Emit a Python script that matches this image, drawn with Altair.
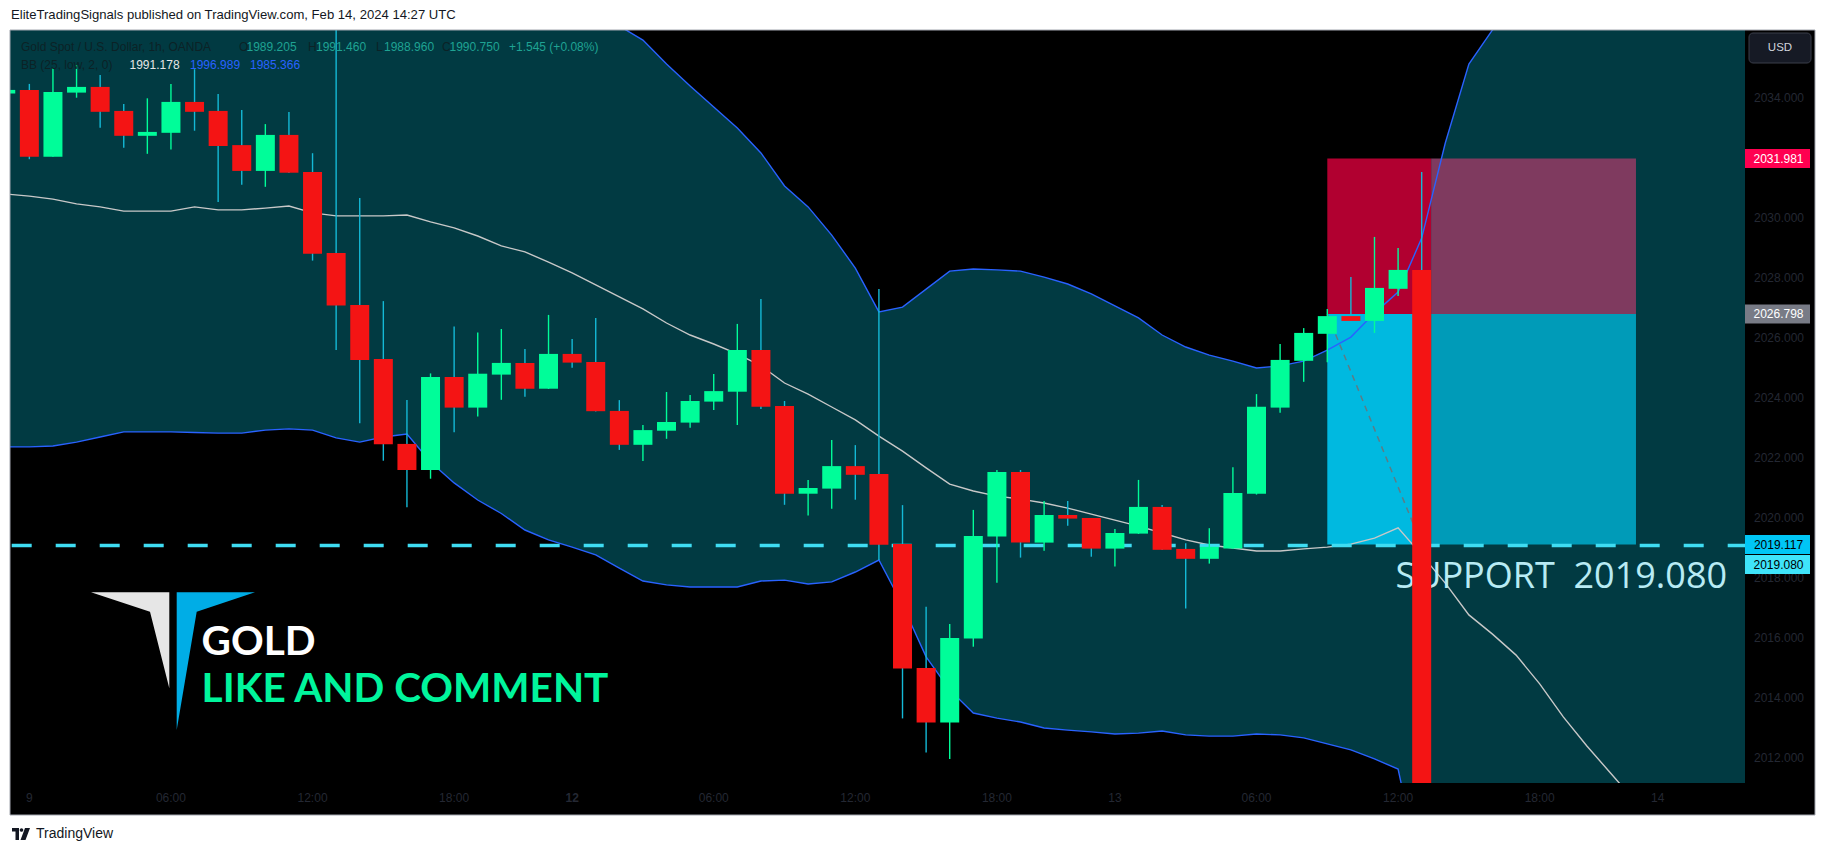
import altair as alt
import pandas as pd
import numpy as np

# ------------------------------------------------------------------ data
title_text = "EliteTradingSignals published on TradingView.com, Feb 14, 2024 14:27 UTC"

bar_index = list(range(-24, 37))
bar_open = [2034.15, 2034.27, 2032.04, 2034.18, 2034.37, 2033.57, 2032.74, 2032.84, 2033.87, 2033.57,
            2032.43, 2031.57, 2032.77, 2031.53, 2028.83, 2027.10, 2025.30, 2022.47, 2021.60, 2024.70,
            2023.68, 2024.78, 2025.17, 2024.31, 2025.47, 2025.20, 2023.57, 2022.44, 2022.91, 2023.18,
            2023.88, 2024.21, 2025.60, 2023.73, 2020.81, 2020.98, 2021.73, 2021.47, 2019.13, 2015.00,
            2013.18, 2015.98, 2019.38, 2021.53, 2019.18, 2020.10, 2020.00, 2018.98, 2019.48, 2020.37,
            2018.97, 2018.64, 2018.98, 2020.81, 2023.68, 2025.24, 2026.14, 2026.73, 2026.57, 2027.64,
            2028.27]
bar_high = [2034.35, 2034.47, 2034.99, 2035.10, 2034.77, 2033.80, 2033.99, 2034.47, 2034.96, 2034.13,
            2033.60, 2033.13, 2033.53, 2032.16, 2036.60, 2030.67, 2027.23, 2023.93, 2024.82, 2026.38,
            2026.18, 2026.30, 2025.63, 2026.77, 2025.97, 2026.67, 2023.93, 2023.10, 2024.20, 2024.10,
            2024.80, 2026.47, 2027.30, 2023.90, 2021.27, 2022.60, 2022.43, 2027.63, 2020.43, 2017.04,
            2016.47, 2020.27, 2021.60, 2021.60, 2020.57, 2020.57, 2020.00, 2019.63, 2021.27, 2020.43,
            2019.16, 2019.66, 2021.69, 2024.13, 2025.80, 2026.33, 2026.97, 2028.03, 2029.37, 2029.00,
            2031.53]
bar_low = [2034.05, 2031.96, 2032.04, 2034.01, 2033.01, 2032.34, 2032.14, 2032.28, 2032.91, 2030.53,
           2031.11, 2031.04, 2031.50, 2028.58, 2025.60, 2023.16, 2021.91, 2020.36, 2021.31, 2022.86,
           2023.38, 2023.94, 2024.04, 2024.30, 2025.01, 2023.55, 2022.27, 2021.90, 2022.64, 2023.01,
           2023.60, 2023.10, 2023.63, 2020.44, 2020.08, 2020.31, 2020.61, 2018.60, 2013.32, 2012.18,
           2011.97, 2015.71, 2017.84, 2018.68, 2018.91, 2019.74, 2018.71, 2018.38, 2019.47, 2018.93,
           2016.98, 2018.48, 2018.97, 2020.78, 2023.51, 2024.54, 2025.19, 2026.55, 2026.17, 2027.40,
           2005.00]
bar_close = [2034.27, 2032.04, 2034.20, 2034.37, 2033.54, 2032.74, 2032.87, 2033.87, 2033.54, 2032.40,
             2031.57, 2032.77, 2031.51, 2028.81, 2027.08, 2025.27, 2022.46, 2021.60, 2024.70, 2023.68,
             2024.81, 2025.17, 2024.31, 2025.47, 2025.18, 2023.56, 2022.44, 2022.93, 2023.20, 2023.90,
             2024.23, 2025.60, 2023.71, 2020.81, 2021.00, 2021.73, 2021.44, 2019.11, 2014.98, 2013.18,
             2016.00, 2019.40, 2021.53, 2019.18, 2020.10, 2019.98, 2018.98, 2019.50, 2020.37, 2018.94,
             2018.64, 2019.04, 2020.83, 2023.71, 2025.27, 2026.17, 2026.73, 2026.57, 2027.67, 2028.27,
             2008.00]

bb_index = list(range(-24, 51))
bb_upper = [2039.2, 2039.1, 2038.9, 2038.5, 2038.3, 2037.9, 2037.9, 2037.9, 2038.1, 2038.0,
            2038.0, 2037.9, 2037.8, 2037.6, 2037.5, 2037.6, 2037.4, 2037.4, 2037.6, 2037.9,
            2038.2, 2038.0, 2037.9, 2037.6, 2037.3, 2036.8, 2036.4, 2035.93, 2035.13, 2034.4,
            2033.7, 2033.0, 2032.17, 2031.07, 2030.37, 2029.43, 2028.33, 2026.87, 2027.03, 2027.63,
            2028.23, 2028.3, 2028.27, 2028.23, 2028.03, 2027.8, 2027.47, 2027.07, 2026.67, 2026.1,
            2025.7, 2025.43, 2025.23, 2025.0, 2025.07, 2025.23, 2025.6, 2026.03, 2026.83, 2027.53,
            2029.33, 2032.5, 2035.13, 2036.27, 2037.0, 2037.6, 2038.1, 2038.5, 2038.8, 2039.0,
            2039.1, 2039.2, 2039.2, 2039.2, 2039.1]
bb_basis = [2030.8, 2030.73, 2030.63, 2030.47, 2030.37, 2030.23, 2030.23, 2030.23, 2030.37, 2030.27,
            2030.27, 2030.33, 2030.4, 2030.17, 2030.07, 2030.07, 2030.07, 2030.1, 2029.87, 2029.67,
            2029.4, 2029.07, 2028.87, 2028.53, 2028.17, 2027.77, 2027.37, 2026.97, 2026.5, 2026.1,
            2025.8, 2025.47, 2025.07, 2024.5, 2024.13, 2023.7, 2023.27, 2022.73, 2022.23, 2021.67,
            2021.13, 2020.9, 2020.73, 2020.63, 2020.5, 2020.33, 2020.13, 2019.93, 2019.73, 2019.5,
            2019.27, 2019.1, 2019.0, 2018.9, 2018.9, 2018.97, 2019.03, 2019.13, 2019.33, 2019.67,
            2018.77, 2017.83, 2016.77, 2016.13, 2015.43, 2014.47, 2013.37, 2012.4, 2011.5, 2010.6,
            2009.6, 2008.6, 2007.6, 2006.6, 2005.6]
bb_lower = [2022.37, 2022.37, 2022.4, 2022.53, 2022.7, 2022.87, 2022.87, 2022.87, 2022.85, 2022.83,
            2022.83, 2022.93, 2022.97, 2022.93, 2022.67, 2022.53, 2022.7, 2022.8, 2021.87, 2021.17,
            2020.6, 2020.15, 2019.6, 2019.27, 2019.03, 2018.77, 2018.33, 2017.9, 2017.77, 2017.7,
            2017.7, 2017.7, 2017.9, 2017.93, 2017.8, 2017.87, 2018.2, 2018.6, 2017.1, 2015.37,
            2014.27, 2013.5, 2013.33, 2013.2, 2013.0, 2012.93, 2012.87, 2012.8, 2012.83, 2012.9,
            2012.77, 2012.73, 2012.73, 2012.8, 2012.77, 2012.67, 2012.47, 2012.27, 2011.97, 2011.63,
            2008.0, 2003.0, 2000.0, 1998.0, 1996.0, 1994.0, 1993.0, 1992.0, 1991.0, 1990.0,
            1990.0, 1990.0, 1990.0, 1990.0, 1990.0]

price_ticks = [2012, 2014, 2016, 2018, 2020, 2022, 2024, 2026, 2028, 2030, 2032, 2034]
time_tick_index = [-23, -17, -11, -5, 0, 6, 12, 18, 23, 29, 35, 41, 46]
time_tick_labels = ["9", "06:00", "12:00", "18:00", "12", "06:00", "12:00", "18:00", "13",
                    "06:00", "12:00", "18:00", "14"]
time_tick_bold = [False, False, False, False, True, False, False, False, False,
                  False, False, False, False]

support_price = 2019.080
position_entry = 2026.798
position_stop = 2031.981
position_target = 2019.117
position_start_bar = 32
position_now_bar = 36.4
position_end_bar = 45.08
position_line_bars = [32, 36]
position_line_prices = [2026.798, 2019.117]

price_flags = ["2031.981", "2026.798", "2019.117", "2019.080"]
price_flag_values = [2031.981, 2026.798, 2019.117, 2019.080]

legend_symbol = "Gold Spot / U.S. Dollar, 1h, OANDA"
legend_ohlc = [("O", "1989.205"), ("H", "1991.460"), ("L", "1988.960"), ("C", "1990.750")]
legend_change = "+1.545 (+0.08%)"
legend_bb_name = "BB (25, low, 2, 0)"
legend_bb_values = ["1991.178", "1996.989", "1985.366"]

# ------------------------------------------------------------------ styles
W, H = 1735, 753
XS = alt.Scale(domain=[-23.82, 49.70], nice=False, zero=False, padding=0)
YS = alt.Scale(domain=[2011.167, 2036.267], nice=False, zero=False, padding=0)
GREEN = "#00fd99"
RED = "#f41414"
CYAN_WICK = "#14b9d6"
FILL = "#013a42"
BAND = "#2962ff"
BASIS = "#c8c8c8"
DIM = "#242833"
FONT = "Liberation Sans"

candles = pd.DataFrame({"k": bar_index, "open": bar_open, "high": bar_high,
                        "low": bar_low, "close": bar_close})
up = candles["close"] >= candles["open"]
candles["body_color"] = np.where(up, GREEN, RED)
candles["wick_color"] = np.where(up, GREEN, CYAN_WICK)

bb = pd.DataFrame({"k": bb_index, "upper": bb_upper, "basis": bb_basis, "lower": bb_lower})
ONE = pd.DataFrame({"a": [0]})

layers = []

def pix_rect(x1, x2, y1, y2, **kw):
    return alt.Chart(ONE).mark_rect(**kw).encode(
        x=alt.value(x1), x2=alt.value(x2), y=alt.value(y1), y2=alt.value(y2))

def pix_text(txt, x, y, color, size=12, weight="normal", align="left", font=FONT):
    return alt.Chart(ONE).mark_text(text=txt, align=align, baseline="middle", font=font,
                                    fontSize=size, fontWeight=weight, color=color).encode(
        x=alt.value(x), y=alt.value(y))

# axis backgrounds
layers.append(pix_rect(W, W + 70, 0, H + 32, color="black"))
layers.append(pix_rect(0, W, H, H + 32, color="black"))

# Bollinger fill
layers.append(alt.Chart(bb).mark_area(clip=True, color=FILL, opacity=1).encode(
    x=alt.X("k:Q", scale=XS), y=alt.Y("upper:Q", scale=YS), y2="lower:Q"))

# position tool boxes
def pos_box(x1, x2, y1, y2, color):
    return alt.Chart(ONE).mark_rect(clip=True, color=color, opacity=1).encode(
        x=alt.X(datum=x1, scale=XS), x2=alt.X2(datum=x2),
        y=alt.Y(datum=y1, scale=YS), y2=alt.Y2(datum=y2))

layers.append(pos_box(position_start_bar, position_now_bar, position_entry, position_stop, "#b10030"))
layers.append(pos_box(position_now_bar, position_end_bar, position_entry, position_stop, "#7f3a5f"))
layers.append(pos_box(position_start_bar, position_now_bar, position_target, position_entry, "#00b9e0"))
layers.append(pos_box(position_now_bar, position_end_bar, position_target, position_entry, "#009bb8"))

# Bollinger lines
for col, colr in [("basis", BASIS), ("upper", BAND), ("lower", BAND)]:
    layers.append(alt.Chart(bb).mark_line(clip=True, color=colr, strokeWidth=1.4).encode(
        x=alt.X("k:Q", scale=XS), y=alt.Y(f"{col}:Q", scale=YS)))

# support line
layers.append(alt.Chart(ONE).mark_rule(color="#3fdcf2", strokeWidth=3.5, strokeDash=[20, 24]).encode(
    x=alt.value(1.7), x2=alt.value(W), y=alt.Y(datum=support_price, scale=YS)))

# position dashed line
pl = pd.DataFrame({"k": position_line_bars, "p": position_line_prices})
layers.append(alt.Chart(pl).mark_line(clip=True, color="#5d7c86", strokeWidth=1.5,
                                      strokeDash=[6, 5]).encode(
    x=alt.X("k:Q", scale=XS), y=alt.Y("p:Q", scale=YS)))

# annotations
def data_text(txt, k, p, color, size, weight="normal", align="left", font="Open Sans"):
    return alt.Chart(ONE).mark_text(text=txt, align=align, baseline="alphabetic", font=font,
                                    fontSize=size, fontWeight=weight, color=color).encode(
        x=alt.X(datum=k, scale=XS), y=alt.Y(datum=p, scale=YS))

layers.append(data_text("SUPPORT\u00a0\u00a02019.080", 48.94, 2017.67, "#b8ebf4", 36, align="right"))
layers.append(data_text("GOLD", -15.7, 2015.43, "#ffffff", 40.5, weight="bold", font="Lato"))
layers.append(data_text("LIKE AND COMMENT", -15.7, 2013.87, "#00f59c", 40.5, weight="bold", font="Lato"))

logo_white = "M-0.82,-0.687L-0.037,-0.687L-0.037,0.273L-0.23,-0.493Z"
logo_blue = "M0.037,-0.687L0.82,-0.687L0.237,-0.493L0.037,0.69Z"
for shp, colr in [(logo_white, "#e6e6e6"), (logo_blue, "#00ade6")]:
    layers.append(alt.Chart(ONE).mark_point(shape=shp, size=40000, filled=True, opacity=1,
                                            strokeWidth=0, color=colr).encode(
        x=alt.value(163), y=alt.value(631)))

# candles
layers.append(alt.Chart(candles).mark_rule(clip=True, strokeWidth=1.4).encode(
    x=alt.X("k:Q", scale=XS), y=alt.Y("low:Q", scale=YS), y2="high:Q",
    color=alt.Color("wick_color:N", scale=None)))
layers.append(alt.Chart(candles).mark_bar(clip=True, size=19).encode(
    x=alt.X("k:Q", scale=XS), y=alt.Y("open:Q", scale=YS), y2="close:Q",
    color=alt.Color("body_color:N", scale=None)))

# legend
LEG_DARK = "#0c2226"
LEG_NUM = "#1fa393"
layers.append(pix_text(legend_symbol, 11, 16.6, LEG_DARK))
ohlc_x = [(229, 236.5), (298, 306), (366, 374), (432, 439.5)]
for (letter, val), (lx, vx) in zip(legend_ohlc, ohlc_x):
    layers.append(pix_text(letter, lx, 16.6, LEG_DARK))
    layers.append(pix_text(val, vx, 16.6, LEG_NUM))
layers.append(pix_text(legend_change, 499, 16.6, LEG_NUM))
layers.append(pix_text(legend_bb_name, 11, 35, LEG_DARK))
for val, vx, colr in zip(legend_bb_values, [119.5, 180, 240], ["#e6e6e6", BAND, BAND]):
    layers.append(pix_text(val, vx, 35, colr))

# price axis labels
pt = pd.DataFrame({"p": price_ticks})
layers.append(alt.Chart(pt).mark_text(align="center", baseline="middle", font=FONT, fontSize=12,
                                      color=DIM).encode(
    x=alt.value(1769), y=alt.Y("p:Q", scale=YS), text=alt.Text("p:Q", format=".3f")))

# price flags
flag_box = "M-1,-0.292L1,-0.292L1,0.292L-1,0.292Z"
flag_style = [("#ff0050", "#ffffff", 0), ("#787b86", "#ffffff", 0),
              ("#00c6f5", "#000000", 0), ("#3fe4fa", "#000000", 19)]
for txt, val, (bg, fg, dy) in zip(price_flags, price_flag_values, flag_style):
    layers.append(alt.Chart(ONE).mark_point(shape=flag_box, size=4225, filled=True, opacity=1,
                                            strokeWidth=0, color=bg, yOffset=dy).encode(
        x=alt.value(1767.5), y=alt.Y(datum=val, scale=YS)))
    layers.append(alt.Chart(ONE).mark_text(text=txt, align="center", baseline="middle", font=FONT,
                                           fontSize=12, color=fg, yOffset=dy).encode(
        x=alt.value(1768.5), y=alt.Y(datum=val, scale=YS)))

# time axis labels
tt = pd.DataFrame({"k": time_tick_index, "lab": time_tick_labels, "bold": time_tick_bold})
for is_bold, wt in [(False, "normal"), (True, "bold")]:
    layers.append(alt.Chart(tt[tt["bold"] == is_bold]).mark_text(
        align="center", baseline="middle", font=FONT, fontSize=12, fontWeight=wt,
        color=DIM).encode(x=alt.X("k:Q", scale=XS), y=alt.value(768), text="lab:N"))

# USD box
layers.append(pix_rect(1739, 1801, 3, 33, fill="#161a25", stroke="#3a3e4a", strokeWidth=1,
                       cornerRadius=4))
layers.append(pix_text("USD", 1770, 18, "#d1d4dc", size=11.5, align="center"))

# frame
layers.append(pix_rect(0, 1805, 0, H + 32, fill="transparent", stroke="#a3a6af", strokeWidth=1))

# header and footer
layers.append(pix_text(title_text, 1, -15, "#131722", size=13.1))
tv_logo = ("M-0.9,-0.6H-0.2V0.6H-0.55V-0.25H-0.9Z"
           "M-0.13,-0.4a0.18,0.18 0 1,0 0.36,0a0.18,0.18 0 1,0 -0.36,0Z"
           "M0.4,-0.6H0.9L0.45,0.6H-0.05Z")
layers.append(alt.Chart(ONE).mark_point(shape=tv_logo, size=400, filled=True, opacity=1,
                                        strokeWidth=0, color="#131722").encode(
    x=alt.value(11), y=alt.value(804)))
layers.append(pix_text("TradingView", 26, 804, "#131722", size=14))

chart = alt.layer(*layers).properties(
    width=W, height=H,
    autosize=alt.AutoSizeParams(type="none"),
    padding={"left": 2, "top": 22, "right": 72, "bottom": 62},
    background="white",
).configure_view(fill="black", strokeWidth=0).configure_axis(disable=True)

chart.save("out.html", embed_options={"renderer": "svg", "actions": False})
